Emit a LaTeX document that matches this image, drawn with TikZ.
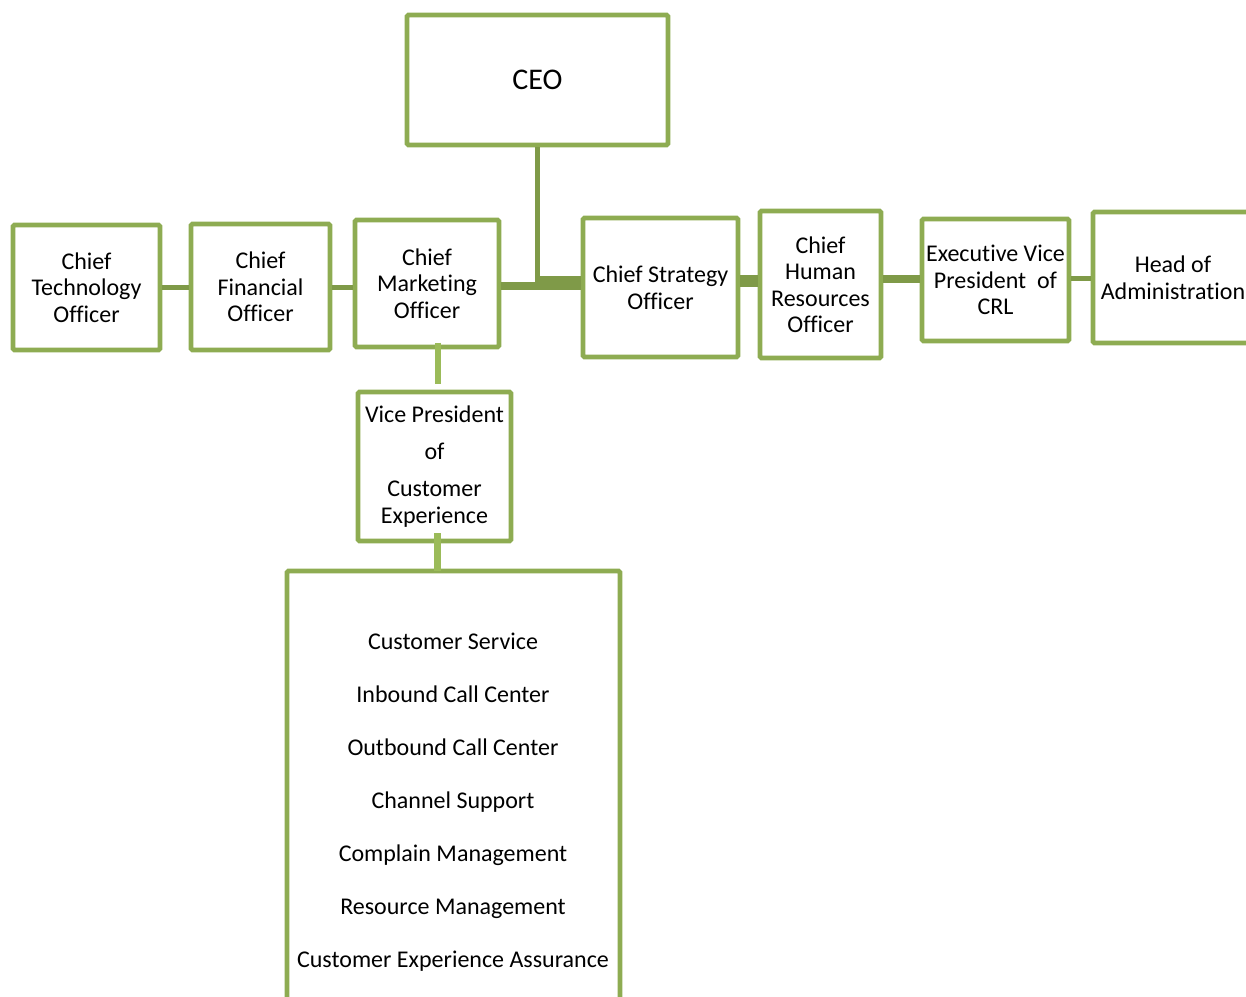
\documentclass[tikz,border=0pt]{standalone}
\usepackage{fontspec}
\setmainfont[Ligatures=NoCommon]{Carlito}
\definecolor{boxgreen}{HTML}{8EAC52}
\definecolor{darkline}{HTML}{7F9A48}
\definecolor{lightline}{HTML}{9BBB59}
\begin{document}
\begin{tikzpicture}[x=1pt,y=-1pt,
  orgbox/.style={draw=boxgreen,line width=4.8pt,rounded corners=1.5pt,fill=white,inner sep=0pt,align=center,font=\fontsize{24}{26.5}\selectfont},
  bx/.style 2 args={minimum width=#1pt,minimum height=#2pt},
  plaintext/.style={inner sep=0pt,align=center,font=\fontsize{24}{26.5}\selectfont},
  busline/.style={draw=darkline},
  downline/.style={draw=lightline}]
\useasboundingbox (0,0) rectangle (1246,996);
\clip (0,0) rectangle (1246,996);

% boxes
\node[orgbox,bx={261}{130},font=\fontsize{30}{34}\selectfont] (ceo) at (537.5,80) {CEO};
\node[orgbox,bx={147}{125}] (cto) at (86.5,287.5) {Chief\\Technology\\Officer};
\node[orgbox,bx={139}{126}] (cfo) at (260.5,287) {Chief\\Financial\\Officer};
\node[orgbox,bx={144}{127}] (cmo) at (427,283.5) {Chief\\Marketing\\Officer};
\node[orgbox,bx={155}{139}] (cso) at (660.5,287.5) {Chief Strategy\\Officer};
\node[orgbox,bx={121}{147}] (chro) at (820.5,284.5) {Chief\\Human\\Resources\\Officer};
\node[orgbox,bx={147}{122}] (evp) at (995.5,280) {Executive Vice\\President\ \ of\\CRL};
\node[orgbox,bx={160}{131}] (head) at (1173,277.5) {Head of\\Administration};
\node[orgbox,bx={153}{149}] (vp) at (434.5,466.5) {Vice President\\[10pt]of\\[11pt]Customer\\Experience};
\node[orgbox,bx={333}{441}] (dept) at (453.5,791.5) {};
\node[plaintext] (deptitems) at (453,802.5) {Customer Service\\[26.5pt]Inbound Call Center\\[26.5pt]Outbound Call Center\\[26.5pt]Channel Support\\[26.5pt]Complain Management\\[26.5pt]Resource Management\\[26.5pt]Customer Experience Assurance};

% connectors
\coordinate (hub) at (537.5,283);
\coordinate (bus) at (537.5,286);
\draw[busline,line width=5pt] (ceo.south) -- (hub);
\draw[busline,line width=8pt] (bus -| cmo.east) -- (bus);
\draw[busline,line width=14pt] (hub) -- (hub -| cso.west);
\draw[busline,line width=12pt] ([yshift=6.5pt]cso.east) -- ([yshift=6.5pt]cso.east -| chro.west);
\draw[busline,line width=8pt] ([yshift=5.5pt]chro.east) -- ([yshift=5.5pt]chro.east -| evp.west);
\draw[busline,line width=5pt] ([yshift=1.5pt]evp.east) -- ([yshift=1.5pt]evp.east -| head.west);
\draw[busline,line width=5pt] (cto.east) -- (cto.east -| cfo.west);
\draw[busline,line width=5pt] ([yshift=-0.5pt]cfo.east) -- ([yshift=-0.5pt]cfo.east -| cmo.west);

\coordinate (cmodrop) at (438,342.5);
\coordinate (vpgap) at (438,383.5);
\draw[downline,line width=6pt] (cmodrop) -- (vpgap);
\coordinate (vpjoin) at (437.5,533);
\draw[downline,line width=7pt] (vpjoin) -- ([yshift=-2pt]vpjoin |- dept.north);
\end{tikzpicture}
\end{document}
